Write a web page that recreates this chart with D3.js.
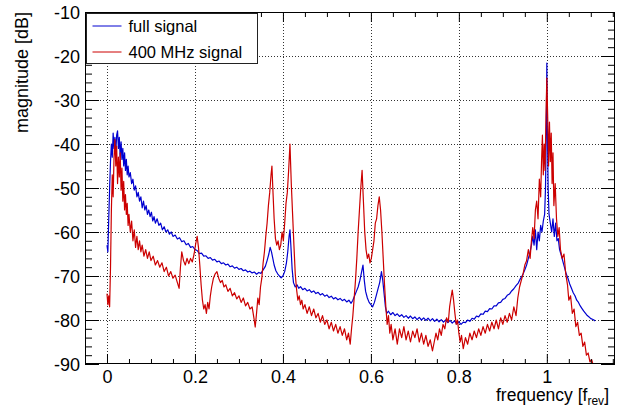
<!DOCTYPE html>
<html>
<head>
<meta charset="utf-8">
<script src="https://cdn.jsdelivr.net/npm/d3@7"></script>
<style>
  body { margin: 0; background: #fff; }
  svg { display: block; font-family: "Liberation Sans", Arial, sans-serif; }
</style>
</head>
<body>
<div id="chart"></div>
<script>
// tick labels
const xTicks = [0, 0.2, 0.4, 0.6, 0.8, 1];
const yTicks = [-90, -80, -70, -60, -50, -40, -30, -20, -10];

const seriesNames = ['full signal', '400 MHz signal'];

// [frequency in f_rev, magnitude in dB]
const fullSignal = [
  [0.000,-63],[0.002,-64.5],[0.004,-57],[0.006,-50],[0.008,-44],[0.010,-40],[0.012,-43],[0.014,-37.5],[0.016,-41],[0.018,-38.5],
  [0.020,-42],[0.022,-38],[0.024,-37],[0.026,-41],[0.028,-38.5],[0.030,-43],[0.032,-39.5],[0.034,-43.5],[0.036,-41],[0.038,-45],
  [0.040,-42],[0.042,-46],[0.044,-43.5],[0.046,-47],[0.048,-45],[0.050,-47.5],[0.053,-46.5],[0.056,-49],[0.059,-48],[0.062,-50.5],
  [0.065,-49.5],[0.068,-52],[0.071,-51],[0.074,-53],[0.077,-52],[0.080,-54.5],[0.083,-53],[0.086,-55],[0.089,-54],[0.092,-56],
  [0.095,-55],[0.098,-56.5],[0.101,-55.5],[0.104,-57.5],[0.107,-56.5],[0.110,-58],[0.114,-57],[0.118,-58.5],[0.122,-58],[0.126,-59.5],
  [0.130,-58.8],[0.134,-60],[0.138,-59.5],[0.142,-60.5],[0.146,-60],[0.150,-61],[0.155,-60.7],[0.160,-61.6],[0.165,-61.3],[0.170,-62.2],
  [0.175,-62],[0.180,-62.9],[0.185,-62.6],[0.190,-63.5],[0.195,-63.3],[0.200,-64],[0.205,-64.2],[0.210,-64.9],[0.215,-64.8],[0.220,-65.5],
  [0.225,-65.4],[0.230,-66],[0.235,-65.8],[0.240,-66.4],[0.245,-66.2],[0.250,-66.8],[0.255,-66.6],[0.260,-67.2],[0.265,-67],[0.270,-67.5],
  [0.275,-67.3],[0.280,-67.9],[0.285,-67.7],[0.290,-68.2],[0.295,-68],[0.300,-68.5],[0.305,-68.3],[0.310,-68.8],[0.315,-68.6],[0.320,-69.1],
  [0.325,-68.9],[0.330,-69.3],[0.335,-69.1],[0.340,-69.6],[0.345,-69.2],[0.350,-69.4],[0.355,-68.6],[0.360,-67.8],[0.364,-66.5],[0.368,-65],
  [0.371,-63.5],[0.374,-64.5],[0.377,-66],[0.380,-67.5],[0.384,-68.8],[0.388,-69.5],[0.392,-70],[0.396,-70.4],[0.400,-70],[0.404,-69],
  [0.408,-67],[0.411,-64.5],[0.414,-61],[0.416,-59.5],[0.418,-63],[0.421,-68.5],[0.424,-71.5],[0.428,-72.5],[0.432,-72],[0.436,-72.8],
  [0.440,-72.4],[0.445,-73.1],[0.450,-72.8],[0.455,-73.4],[0.460,-73.1],[0.465,-73.7],[0.470,-73.4],[0.475,-74],[0.480,-73.7],[0.485,-74.3],
  [0.490,-74],[0.495,-74.6],[0.500,-74.3],[0.505,-74.9],[0.510,-74.6],[0.515,-75.2],[0.520,-74.9],[0.525,-75.4],[0.530,-75.1],[0.535,-75.6],
  [0.540,-75.3],[0.545,-75.9],[0.550,-75.5],[0.555,-76.2],[0.559,-75.5],[0.563,-74.5],[0.567,-73.5],[0.571,-72.5],[0.575,-71],[0.579,-69],
  [0.582,-67.5],[0.585,-71],[0.588,-73.5],[0.592,-75],[0.596,-76],[0.600,-76.5],[0.604,-77],[0.608,-76],[0.612,-74.5],[0.616,-73],
  [0.620,-71.5],[0.624,-69],[0.627,-71],[0.630,-74],[0.633,-77],[0.636,-78.5],[0.640,-78],[0.645,-78.8],[0.650,-78.3],[0.655,-79],
  [0.660,-78.6],[0.665,-79.2],[0.670,-78.8],[0.675,-79.4],[0.680,-79],[0.685,-79.6],[0.690,-79.1],[0.695,-79.7],[0.700,-79.3],[0.705,-79.9],
  [0.710,-79.4],[0.715,-80],[0.720,-79.5],[0.725,-80.1],[0.730,-79.6],[0.735,-80.2],[0.740,-79.7],[0.745,-80.3],[0.750,-79.8],[0.755,-80.4],
  [0.760,-79.9],[0.765,-80.5],[0.770,-80],[0.775,-80.6],[0.780,-80.1],[0.785,-80.7],[0.790,-80.2],[0.795,-80.9],[0.800,-80.4],[0.805,-81],
  [0.810,-80.5],[0.815,-80.6],[0.820,-80],[0.825,-80.3],[0.830,-79.6],[0.835,-79.8],[0.840,-79.1],[0.845,-79.3],[0.850,-78.6],[0.855,-78.7],
  [0.860,-78],[0.865,-78.1],[0.870,-77.4],[0.875,-77.5],[0.880,-76.8],[0.885,-76.8],[0.890,-76.1],[0.895,-76],[0.900,-75.3],[0.905,-75.1],
  [0.910,-74.4],[0.915,-74.1],[0.920,-73.4],[0.925,-72.9],[0.930,-72.2],[0.935,-71.6],[0.940,-70.6],[0.945,-69.8],[0.950,-68.6],[0.954,-67.5],
  [0.958,-66],[0.962,-64.5],[0.965,-63],[0.968,-61],[0.971,-63],[0.974,-59.5],[0.977,-64],[0.980,-60],[0.983,-62],[0.986,-58.5],
  [0.989,-60],[0.992,-57.5],[0.995,-56],[0.997,-50],[0.999,-35],[1.000,-21.6],[1.001,-35],[1.003,-50],[1.005,-56],[1.008,-58],
  [1.011,-60],[1.014,-57],[1.017,-61],[1.020,-58],[1.023,-62],[1.026,-61.5],[1.029,-64],[1.032,-65],[1.036,-66.5],[1.040,-68],
  [1.044,-69.5],[1.048,-70.5],[1.052,-71.8],[1.056,-72.8],[1.060,-73.8],[1.064,-74.5],[1.068,-75.5],[1.072,-76],[1.076,-76.8],[1.080,-77.4],
  [1.084,-78],[1.088,-78.5],[1.092,-79],[1.096,-79.3],[1.100,-79.7],[1.105,-79.9],[1.110,-80.2]
];

const mhz400Signal = [
  [0.000,-74],[0.002,-76.5],[0.004,-74.5],[0.006,-77],[0.008,-68],[0.010,-55],[0.012,-47],[0.014,-52],[0.016,-43],[0.018,-39],
  [0.020,-45],[0.022,-40.5],[0.024,-49],[0.026,-43],[0.028,-47.5],[0.030,-42],[0.032,-50.5],[0.034,-45.5],[0.036,-53],[0.038,-48.5],
  [0.040,-55],[0.042,-51.5],[0.044,-56],[0.046,-53.5],[0.048,-58.5],[0.050,-56],[0.053,-60],[0.056,-57.5],[0.059,-62],[0.062,-59.5],
  [0.065,-63.5],[0.068,-61],[0.071,-64],[0.074,-62],[0.077,-64.5],[0.080,-63],[0.084,-65.5],[0.088,-64],[0.092,-66],[0.096,-64.5],
  [0.100,-66.5],[0.105,-65.5],[0.110,-67.5],[0.115,-66.5],[0.120,-68],[0.125,-67],[0.130,-69],[0.135,-68],[0.140,-70],[0.145,-69],
  [0.150,-70.5],[0.155,-69.8],[0.160,-71.5],[0.164,-72.8],[0.167,-68],[0.170,-64.5],[0.174,-66.5],[0.178,-67.5],[0.182,-66],[0.186,-67.2],
  [0.190,-66],[0.194,-66.8],[0.198,-65],[0.202,-62.5],[0.205,-61],[0.208,-63.5],[0.211,-67.5],[0.214,-72],[0.217,-75.5],[0.220,-77.5],
  [0.223,-76.5],[0.226,-78.5],[0.229,-76],[0.232,-77.5],[0.235,-74.5],[0.238,-72.5],[0.242,-70.5],[0.246,-69.5],[0.250,-69],[0.254,-70.5],
  [0.258,-71.5],[0.262,-71],[0.266,-72.5],[0.270,-72],[0.275,-73.5],[0.280,-72.8],[0.285,-74.5],[0.290,-73.8],[0.295,-75.2],[0.300,-74.5],
  [0.305,-76],[0.310,-75],[0.315,-76.8],[0.320,-76],[0.325,-77.5],[0.330,-77],[0.334,-79.5],[0.337,-81.6],[0.340,-78.5],[0.343,-75],
  [0.346,-76.5],[0.349,-72.5],[0.352,-70.5],[0.355,-67],[0.358,-64.5],[0.361,-61],[0.364,-58],[0.367,-54],[0.370,-51],[0.373,-47],
  [0.375,-45],[0.377,-50],[0.380,-57],[0.383,-61.5],[0.386,-63],[0.389,-62],[0.392,-64],[0.395,-63],[0.398,-60],[0.401,-62],
  [0.404,-58],[0.407,-53.5],[0.410,-51],[0.413,-46],[0.416,-40],[0.419,-49],[0.422,-56],[0.425,-63],[0.428,-69.5],[0.431,-73],
  [0.434,-75.5],[0.437,-74.5],[0.440,-76.5],[0.443,-75.5],[0.446,-77.5],[0.450,-76.5],[0.455,-78.5],[0.460,-77],[0.465,-79],[0.470,-77.5],
  [0.475,-79.5],[0.480,-78.5],[0.485,-80.5],[0.490,-79],[0.495,-81],[0.500,-80],[0.505,-82],[0.510,-80.5],[0.515,-82.5],[0.520,-81],
  [0.525,-83],[0.530,-81.5],[0.535,-83.5],[0.540,-82],[0.545,-84.5],[0.549,-83],[0.553,-85.5],[0.556,-82],[0.559,-79],[0.562,-75],
  [0.565,-71],[0.568,-66],[0.571,-60],[0.574,-55],[0.577,-50],[0.580,-46],[0.583,-53],[0.586,-60],[0.589,-64],[0.592,-66],
  [0.595,-65],[0.598,-67],[0.601,-66],[0.604,-64],[0.607,-62],[0.610,-58],[0.613,-57],[0.616,-54],[0.619,-52],[0.622,-55],
  [0.625,-60],[0.628,-66],[0.631,-72],[0.634,-77],[0.637,-81],[0.640,-79],[0.643,-83],[0.646,-81],[0.650,-84.5],[0.655,-82],
  [0.660,-85.5],[0.665,-82],[0.670,-84],[0.675,-81.5],[0.680,-84.5],[0.685,-82.5],[0.690,-85],[0.695,-82.5],[0.700,-84],[0.705,-82],
  [0.710,-85],[0.715,-83],[0.720,-85.5],[0.725,-83.5],[0.730,-86],[0.735,-84.5],[0.740,-87],[0.744,-85],[0.748,-83],[0.752,-84.5],
  [0.756,-82],[0.760,-83.5],[0.764,-81],[0.768,-82],[0.772,-79.5],[0.776,-80.5],[0.779,-77],[0.782,-75],[0.785,-73.2],[0.788,-75.5],
  [0.791,-78.5],[0.794,-81],[0.797,-80],[0.800,-83],[0.803,-85],[0.806,-83.5],[0.810,-86.5],[0.815,-84],[0.820,-85.5],[0.825,-83],
  [0.830,-84.5],[0.835,-82.5],[0.840,-84],[0.845,-82],[0.850,-83.5],[0.855,-81.5],[0.860,-83],[0.865,-81],[0.870,-82.5],[0.875,-80.5],
  [0.880,-82],[0.885,-80],[0.890,-82],[0.895,-79.5],[0.900,-81],[0.905,-79],[0.910,-80.5],[0.915,-78.5],[0.920,-80],[0.925,-77],
  [0.930,-79],[0.934,-75],[0.938,-72.5],[0.942,-71],[0.946,-69.5],[0.950,-67.5],[0.954,-66.5],[0.958,-64],[0.962,-66],[0.965,-62],
  [0.968,-59],[0.971,-61.5],[0.974,-55],[0.977,-53],[0.980,-57],[0.983,-48],[0.986,-52],[0.988,-44],[0.990,-38],[0.992,-47],
  [0.994,-40],[0.996,-46],[0.998,-34],[1.000,-25],[1.002,-34],[1.004,-45],[1.006,-35],[1.008,-44],[1.010,-37.5],[1.012,-49],
  [1.014,-42],[1.016,-54],[1.019,-49],[1.022,-57],[1.025,-61],[1.028,-59],[1.031,-64],[1.035,-66],[1.039,-65],[1.043,-69.5],
  [1.047,-72],[1.050,-75.5],[1.054,-74.5],[1.058,-78.5],[1.062,-77.5],[1.066,-81.5],[1.070,-80.5],[1.074,-83.5],[1.078,-83],[1.082,-86],
  [1.086,-85],[1.090,-88],[1.094,-87.5],[1.098,-89.5],[1.102,-89],[1.106,-90.5],[1.110,-91]
];

const colors = ['#0000d0', '#cc0000'];

const margin = { top: 12, right: 10, bottom: 43, left: 85 };
const W = 625, H = 407;
const width = W - margin.left - margin.right;
const height = H - margin.top - margin.bottom;

const svg = d3.select('#chart').append('svg')
  .attr('width', W)
  .attr('height', H);

const g = svg.append('g')
  .attr('transform', `translate(${margin.left}, ${margin.top})`);

const x = d3.scaleLinear().domain([-0.05, 1.155]).range([0, width]);
const y = d3.scaleLinear().domain([-90, -10]).range([height, 0]);

// minor ticks every 0.05 / 2 dB
const xMinor = d3.range(-1, 24).map(i => i * 0.05).filter(v => Math.abs(v * 5 - Math.round(v * 5)) > 1e-6);
const yMinor = d3.range(-90, -9, 2).filter(v => v % 10 !== 0);

// dotted grid
const grid = g.append('g').attr('class', 'grid')
  .attr('stroke', '#333').attr('stroke-width', 1).attr('stroke-dasharray', '1,2');
grid.selectAll('.gx').data(xTicks).enter().append('line')
  .attr('x1', d => Math.round(x(d)) + 0.5).attr('x2', d => Math.round(x(d)) + 0.5)
  .attr('y1', 0).attr('y2', height);
grid.selectAll('.gy').data(yTicks.filter(v => v > -90 && v < -10)).enter().append('line')
  .attr('y1', d => Math.round(y(d)) + 0.5).attr('y2', d => Math.round(y(d)) + 0.5)
  .attr('x1', 0).attr('x2', width);

// lines
g.append('clipPath').attr('id', 'clip')
  .append('rect').attr('width', width).attr('height', height);

const line = d3.line().x(d => x(d[0])).y(d => y(d[1]));

const plot = g.append('g').attr('clip-path', 'url(#clip)');
[fullSignal, mhz400Signal].forEach((s, i) => {
  plot.append('path')
    .datum(s)
    .attr('fill', 'none')
    .attr('stroke', colors[i])
    .attr('stroke-width', 1.2)
    .attr('stroke-linejoin', 'round')
    .attr('d', line);
});

// axes, ticks pointing inward on all four sides
const fmt = d => String(d);
function styleAxis(sel) {
  sel.select('.domain').remove();
  sel.selectAll('line').attr('stroke', '#000');
  sel.selectAll('text').attr('fill', '#000').style('font-size', '18px')
    .style('font-family', '"Liberation Sans", Arial, sans-serif');
}

const xAxis = g.append('g').attr('transform', `translate(0, ${height})`)
  .call(d3.axisBottom(x).tickValues(xTicks).tickSize(-10).tickFormat(fmt))
  .call(styleAxis);
xAxis.selectAll('text').attr('y', 19).attr('dy', 0);
g.append('g').attr('transform', `translate(0, ${height})`)
  .call(d3.axisBottom(x).tickValues(xMinor).tickSize(-5).tickFormat(''))
  .call(styleAxis);
g.append('g')
  .call(d3.axisTop(x).tickValues(xTicks).tickSize(-10).tickFormat(''))
  .call(styleAxis);
g.append('g')
  .call(d3.axisTop(x).tickValues(xMinor).tickSize(-5).tickFormat(''))
  .call(styleAxis);

const yAxis = g.append('g')
  .call(d3.axisLeft(y).tickValues(yTicks).tickSize(-14).tickFormat(fmt))
  .call(styleAxis);
yAxis.selectAll('text').attr('x', -5).attr('dy', '0.36em');
g.append('g')
  .call(d3.axisLeft(y).tickValues(yMinor).tickSize(-7).tickFormat(''))
  .call(styleAxis);
g.append('g').attr('transform', `translate(${width}, 0)`)
  .call(d3.axisRight(y).tickValues(yTicks).tickSize(-14).tickFormat(''))
  .call(styleAxis);
g.append('g').attr('transform', `translate(${width}, 0)`)
  .call(d3.axisRight(y).tickValues(yMinor).tickSize(-7).tickFormat(''))
  .call(styleAxis);

// frame
g.append('rect')
  .attr('x', 0.5).attr('y', 0.5)
  .attr('width', width - 1).attr('height', height - 1)
  .attr('fill', 'none').attr('stroke', '#000').attr('stroke-width', 1);

// axis titles
const xTitle = svg.append('text')
  .attr('x', 609).attr('y', 401)
  .attr('text-anchor', 'end')
  .style('font-size', '17.5px');
xTitle.append('tspan').text('frequency [f');
xTitle.append('tspan').attr('dy', 3.5).style('font-size', '12px').text('rev');
xTitle.append('tspan').attr('dy', -3.5).text(']');

svg.append('text')
  .attr('transform', 'translate(28, 12) rotate(-90)')
  .attr('text-anchor', 'end')
  .style('font-size', '18px')
  .text('magnitude [dB]');

// legend
const legend = svg.append('g').attr('transform', 'translate(86.5, 13.5)');
legend.append('rect')
  .attr('width', 171).attr('height', 50)
  .attr('fill', '#fff').attr('stroke', '#222').attr('stroke-width', 1);
seriesNames.forEach((name, i) => {
  const ly = 12.5 + i * 26;
  legend.append('line')
    .attr('x1', 6).attr('x2', 35).attr('y1', ly).attr('y2', ly)
    .attr('stroke', colors[i]).attr('stroke-width', 1);
  legend.append('text')
    .attr('x', 42).attr('y', ly + 5.5)
    .style('font-size', '16.5px')
    .text(name);
});
</script>
</body>
</html>
